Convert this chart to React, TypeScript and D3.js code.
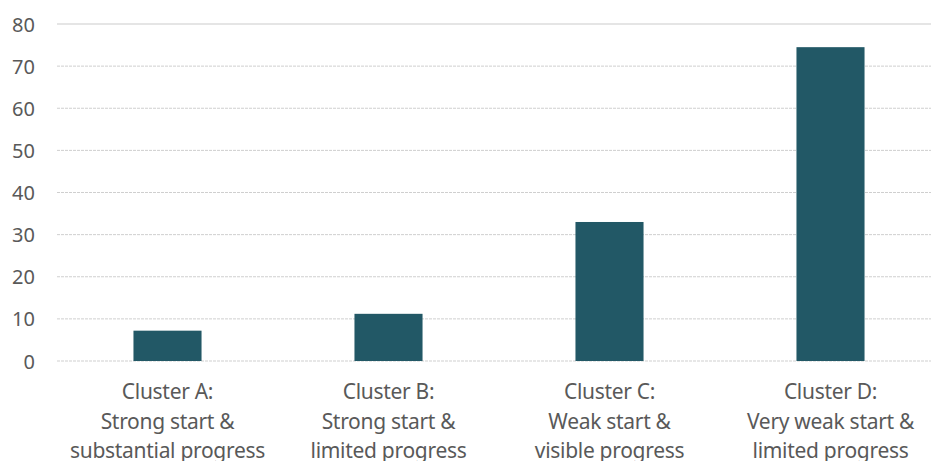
import React from "react";
import * as d3 from "d3";

const clusters = ["Cluster A", "Cluster B", "Cluster C", "Cluster D"];
const clusterLabels = [
  ["Cluster A:", "Strong start &", "substantial progress"],
  ["Cluster B:", "Strong start &", "limited progress"],
  ["Cluster C:", "Weak start &", "visible progress"],
  ["Cluster D:", "Very weak start &", "limited progress"],
];
const values = [7.2, 11.2, 33.0, 74.5];
const yTicks = [0, 10, 20, 30, 40, 50, 60, 70, 80];

const W = 931;
const H = 461;
const FONT = "'Noto Sans', 'Open Sans', sans-serif";

export default function App() {
  const x = d3
    .scaleBand<string>()
    .domain(clusters)
    .range([57, 941])
    .paddingInner(0.692)
    .paddingOuter(0.346);
  const y = d3.scaleLinear().domain([0, 80]).range([361, 24]);

  return (
    <svg
      width={W}
      height={H}
      style={{ position: "absolute", left: 0, top: 0, background: "#fff" }}
      fontFamily={FONT}
    >
      <g>
        {yTicks.map((t) => (
          <g key={t}>
            <line
              x1={57}
              x2={W}
              y1={y(t)}
              y2={y(t)}
              stroke={t === 80 ? "#dcdcdc" : "#cfcfcf"}
              strokeWidth={t === 80 ? 1.5 : 1}
              strokeDasharray={t === 80 ? undefined : "3,1"}
            />
            <text
              x={35}
              y={y(t) + 7.5}
              textAnchor="end"
              fontSize={20}
              fill="#595959"
            >
              {t}
            </text>
          </g>
        ))}
      </g>
      <g>
        {clusters.map((c, i) => (
          <rect
            key={c}
            x={x(c)}
            y={y(values[i])}
            width={x.bandwidth()}
            height={y(0) - y(values[i])}
            fill="#225866"
          />
        ))}
      </g>
      <g>
        {clusters.map((c, i) => (
          <text
            key={c}
            textAnchor="middle"
            fontSize={21}
            fill="#595959"
            letterSpacing={-0.3}
          >
            {clusterLabels[i].map((line, j) => (
              <tspan key={j} x={(x(c) as number) + x.bandwidth() / 2} y={399 + j * 29.7}>
                {line}
              </tspan>
            ))}
          </text>
        ))}
      </g>
    </svg>
  );
}
